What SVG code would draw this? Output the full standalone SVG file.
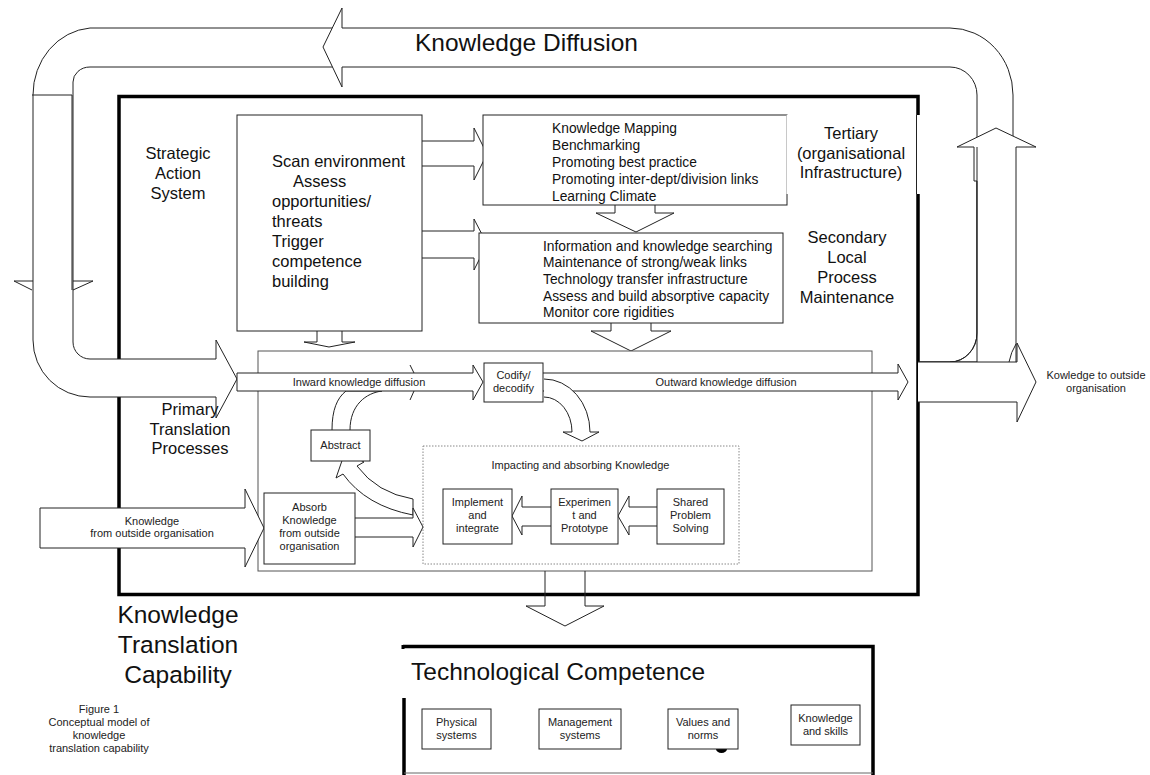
<svg xmlns="http://www.w3.org/2000/svg" width="1150" height="775" viewBox="0 0 1150 775">
<style>
.ln{fill:none;stroke:#222;stroke-width:1}
.bx{fill:#fff;stroke:#222;stroke-width:1}
.wf{fill:#fff;stroke:#222;stroke-width:1}
.thick{fill:none;stroke:#000;stroke-width:3.5}
.t11{font-family:"Liberation Sans",Arial,sans-serif;font-size:11px;fill:#222}
.t14{font-family:"Liberation Sans",Arial,sans-serif;font-size:13.8px;fill:#111}
.t16{font-family:"Liberation Sans",Arial,sans-serif;font-size:16.5px;fill:#111}
.t24{font-family:"Liberation Sans",Arial,sans-serif;font-size:24.5px;fill:#111}
.c{text-anchor:middle}
</style>
<rect width="1150" height="775" fill="#fff"/>

<g id="capability-frame">
  <rect class="thick" x="119" y="96.5" width="799" height="498"/>
</g>

<g id="connectors">
  <!-- Knowledge diffusion loop ribbon -->
  <path class="wf" d="M216,397 H90 A57,57 0 0 1 33,340 V95 A62,67 0 0 1 90,28 H950 A63,67 0 0 1 1013,95 V345 Q1013,358 1010,362 H918 V362 H950 A27,29 0 0 0 977,333 V95 A27,28 0 0 0 950,67 H90 A17,15 0 0 0 73,82 V342 A17,17 0 0 0 90,359 H216"/>
  <!-- left down arrow on ribbon -->
  <path class="ln" d="M32,95 H72 V290"/>
  <path class="ln" d="M33,281 H14 L32,290"/>
  <path class="ln" d="M73,281 H93 L73,290"/>
  <!-- top left-pointing head -->
  <path d="M342,28 V8 L323,47 L342,87 V67 Z" fill="#fff"/>
  <path class="ln" d="M342,28 V8 L323,47 L342,87 V67"/>
  <!-- loop head into primary -->
  <path d="M216,359 V340 L237,379 L216,418 V397 Z" fill="#fff"/>
  <path class="ln" d="M216,359 V340 L237,379 L216,418 V397"/>
  <!-- right up arrow -->
  <path class="wf" d="M977,362 V181 H974 V147 H957 L996,128 L1036,147 H1016 V362"/>
  <path class="ln" d="M977,147 V333 A27,29 0 0 1 950,362"/>
  <path class="ln" d="M1016,344 Q1011,352 1009,362"/>
  <!-- knowledge to outside arrow -->
  <path class="wf" d="M918,362 H1017 V343 L1036,382 L1017,422 V402 H918"/>

  <!-- scan to tertiary -->
  <path class="wf" d="M422,141 H474 V128 L487,154 L474,180 V166 H422"/>
  <!-- scan to secondary -->
  <path class="wf" d="M422,231 H474 V219 L487,244 L474,270 V258 H422"/>
  <!-- tertiary down to secondary -->
  <path class="wf" d="M615,205 V213 H596 L636,232 L674,213 H655 V205"/>
  <!-- secondary down to primary -->
  <path class="wf" d="M611,323 V331 H591 L631,351 L671,331 H651 V323"/>
  <!-- scan down to primary -->
  <path class="wf" d="M317,331 V342 H304 L329,347 L355,342 H342 V331"/>
</g>

<g id="scan">
  <rect class="bx" x="237" y="115" width="185" height="216"/>
  <text class="t16" x="272" y="167">Scan environment</text>
  <text class="t16" x="293" y="187">Assess</text>
  <text class="t16" x="272" y="207">opportunities/</text>
  <text class="t16" x="272" y="227">threats</text>
  <text class="t16" x="272" y="247">Trigger</text>
  <text class="t16" x="272" y="267">competence</text>
  <text class="t16" x="272" y="287">building</text>
</g>

<g id="tertiary">
  <rect class="bx" x="483" y="115" width="304" height="90"/>
  <text class="t14" x="552" y="133">Knowledge Mapping</text>
  <text class="t14" x="552" y="150">Benchmarking</text>
  <text class="t14" x="552" y="167">Promoting best practice</text>
  <text class="t14" x="552" y="184">Promoting inter-dept/division links</text>
  <text class="t14" x="552" y="201">Learning Climate</text>
</g>

<g id="tertiary-label">
  <rect x="786.5" y="115" width="134" height="79" fill="#fff"/>
  <line class="ln" x1="916.5" y1="115" x2="916.5" y2="194"/>
  <text class="t16 c" x="851" y="139">Tertiary</text>
  <text class="t16 c" x="851" y="159">(organisational</text>
  <text class="t16 c" x="851" y="178">Infrastructure)</text>
</g>

<g id="secondary">
  <rect class="bx" x="479" y="233" width="304" height="90"/>
  <text class="t14" x="543" y="250.5">Information and knowledge searching</text>
  <text class="t14" x="543" y="267">Maintenance of strong/weak links</text>
  <text class="t14" x="543" y="284">Technology transfer infrastructure</text>
  <text class="t14" x="543" y="300.5">Assess and build absorptive capacity</text>
  <text class="t14" x="543" y="317">Monitor core rigidities</text>
</g>

<g id="labels">
  <text class="t16 c" x="178" y="159">Strategic</text>
  <text class="t16 c" x="178" y="179">Action</text>
  <text class="t16 c" x="178" y="199">System</text>
  <text class="t16 c" x="847" y="243">Secondary</text>
  <text class="t16 c" x="847" y="263">Local</text>
  <text class="t16 c" x="847" y="283">Process</text>
  <text class="t16 c" x="847" y="303">Maintenance</text>
  <text class="t24" x="415" y="51">Knowledge Diffusion</text>
  <text class="t11 c" x="1096" y="379">Kowledge to outside</text>
  <text class="t11 c" x="1096" y="392">organisation</text>
</g>

<g id="primary">
  <rect x="258" y="351" width="614" height="220" fill="#fff" stroke="#555" stroke-width="1"/>
</g>

<g id="impacting">
  <rect x="423" y="446" width="316" height="118" fill="#fff" stroke="#888" stroke-width="1" stroke-dasharray="1.5,1.5"/>
  <text class="t11 c" x="580.5" y="469">Impacting and absorbing Knowledge</text>
</g>

<g id="primary-connectors">
  <!-- abstract up to inward -->
  <path class="wf" d="M332,430 C332,410 337,398 346,391 H382 C366,393 350,405 350,430"/>
  <!-- inward -->
  <path class="wf" d="M237,373 H473 V365 L483,382 L473,400 V391 H237 Z"/>
  <path class="ln" d="M410,365 L414,373 M410,400 L414,391"/>
  <text class="t11 c" x="359" y="386">Inward knowledge diffusion</text>
  <!-- outward -->
  <path class="wf" d="M543,373 H898 V364 L908,382 L898,400 V391 H543"/>
  <text class="t11 c" x="726" y="386">Outward knowledge diffusion</text>
  <!-- codify to impacting -->
  <path class="wf" d="M544,379 A46,53 0 0 1 590,432 H599 L582,441 L563,432 H572 A28,35 0 0 0 544,397"/>
  <!-- impacting back to abstract -->
  <path class="wf" d="M413,515 Q366,506 343,474 L336,478 L345,452 L364,462 L357,466 Q377,493 413,499 Z"/>
  <!-- absorb to impacting -->
  <path class="wf" d="M355,518 H413 V508 L423,527 L413,547 V537 H355"/>
  <!-- knowledge from outside -->
  <path class="wf" d="M40,508 H245 V489 L264,528 L245,567 V548 H40 Z"/>
  <text class="t11 c" x="152" y="525">Knowledge</text>
  <text class="t11 c" x="152" y="537">from outside organisation</text>
  <!-- shared to experiment -->
  <path class="wf" d="M657,507 H629 V496 L618,516 L629,535 V526 H657"/>
  <!-- experiment to implement -->
  <path class="wf" d="M551,507 H522 V496 L512,516 L522,535 V526 H551"/>
  <!-- to technological competence -->
  <path class="ln" d="M545,571 V606 H526 L565,626 L604,606 H585 V571"/>
</g>

<g id="codify">
  <rect class="bx" x="484" y="363" width="59" height="39"/>
  <text class="t11 c" x="513.5" y="379">Codify/</text>
  <text class="t11 c" x="513.5" y="392">decodify</text>
</g>

<g id="abstract">
  <rect class="bx" x="311" y="430" width="59" height="31"/>
  <text class="t11 c" x="340.5" y="449">Abstract</text>
</g>

<g id="absorb">
  <rect class="bx" x="264" y="493" width="91" height="71"/>
  <text class="t11 c" x="309.5" y="511">Absorb</text>
  <text class="t11 c" x="309.5" y="524">Knowledge</text>
  <text class="t11 c" x="309.5" y="537">from outside</text>
  <text class="t11 c" x="309.5" y="550">organisation</text>
</g>

<g id="implement">
  <rect class="bx" x="443" y="489" width="69" height="55"/>
  <text class="t11 c" x="477.5" y="506">Implement</text>
  <text class="t11 c" x="477.5" y="519">and</text>
  <text class="t11 c" x="477.5" y="532">integrate</text>
</g>

<g id="experiment">
  <rect class="bx" x="551" y="489" width="67" height="55"/>
  <text class="t11 c" x="584.5" y="506">Experimen</text>
  <text class="t11 c" x="584.5" y="519">t and</text>
  <text class="t11 c" x="584.5" y="532">Prototype</text>
</g>

<g id="shared">
  <rect class="bx" x="657" y="489" width="67" height="55"/>
  <text class="t11 c" x="690.5" y="506">Shared</text>
  <text class="t11 c" x="690.5" y="519">Problem</text>
  <text class="t11 c" x="690.5" y="532">Solving</text>
</g>

<g id="primary-label">
  <text class="t16 c" x="190" y="415">Primary</text>
  <text class="t16 c" x="190" y="435">Translation</text>
  <text class="t16 c" x="190" y="454">Processes</text>
</g>

<g id="capability-label">
  <text class="t24 c" x="178" y="623">Knowledge</text>
  <text class="t24 c" x="178" y="653">Translation</text>
  <text class="t24 c" x="178" y="683">Capability</text>
</g>

<g id="caption">
  <text class="t11 c" x="99" y="713">Figure 1</text>
  <text class="t11 c" x="99" y="726">Conceptual model of</text>
  <text class="t11 c" x="99" y="739">knowledge</text>
  <text class="t11 c" x="99" y="752">translation capability</text>
</g>

<g id="technological-competence">
  <path class="thick" d="M403,646.5 H873 V775"/>
  <path class="thick" d="M404,698 V775"/>
  <line x1="404" y1="773" x2="873" y2="773" stroke="#666" stroke-width="1"/>
  <rect x="401.5" y="645" width="3" height="4" fill="#000"/>
  <text class="t24" x="411" y="680">Technological Competence</text>
</g>

<g id="physical">
  <rect class="bx" x="422" y="709" width="69" height="40"/>
  <text class="t11 c" x="456.5" y="726">Physical</text>
  <text class="t11 c" x="456.5" y="739">systems</text>
</g>
<g id="management">
  <rect class="bx" x="539" y="709" width="82" height="40"/>
  <text class="t11 c" x="580" y="726">Management</text>
  <text class="t11 c" x="580" y="739">systems</text>
</g>
<g id="values">
  <path d="M716,749 A5.5,4 0 0 0 727,749 Z" fill="#000"/>
  <rect class="bx" x="668" y="709" width="70" height="40"/>
  <text class="t11 c" x="703" y="726">Values and</text>
  <text class="t11 c" x="703" y="739">norms</text>
</g>
<g id="knowledge-skills">
  <rect class="bx" x="791" y="705" width="69" height="40"/>
  <text class="t11 c" x="825.5" y="722">Knowledge</text>
  <text class="t11 c" x="825.5" y="735">and skills</text>
</g>
</svg>
